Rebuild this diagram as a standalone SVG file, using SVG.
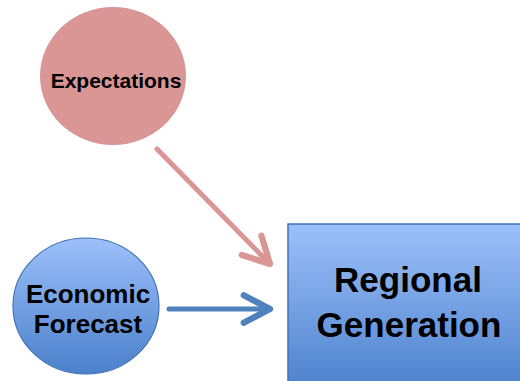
<svg xmlns="http://www.w3.org/2000/svg" width="520" height="381" viewBox="0 0 520 381">
<defs>
<style>
text{font-family:"Liberation Sans",Arial,sans-serif;font-weight:bold;fill:#000;text-anchor:middle}
.conn{fill:none;stroke-width:5;stroke-linecap:round;stroke-linejoin:round}
</style>
<linearGradient id="gb" x1="0" y1="0" x2="0" y2="1">
<stop offset="0" stop-color="#9DC0FA"/>
<stop offset="1" stop-color="#4A80CB"/>
</linearGradient>
<marker id="ap" markerUnits="userSpaceOnUse" orient="auto" markerWidth="40" markerHeight="40" refX="0" refY="0" viewBox="-26 -16 32 32" overflow="visible">
<path d="M-21,-11 L0,0 L-21,11" fill="none" stroke="#D99694" stroke-width="5" stroke-linecap="round" stroke-linejoin="round"/>
</marker>
<marker id="ab" markerUnits="userSpaceOnUse" orient="auto" markerWidth="40" markerHeight="40" refX="0" refY="0" viewBox="-26 -16 32 32" overflow="visible">
<path d="M-21,-11 L0,0 L-21,11" fill="none" stroke="#4F81BD" stroke-width="5" stroke-linecap="round" stroke-linejoin="round"/>
</marker>
</defs>
<rect width="520" height="381" fill="#fff"/>
<g id="connectors">
<path class="conn" d="M157,149 L270,264" stroke="#D99694" marker-end="url(#ap)"/>
<path class="conn" d="M169,309 L270,309" stroke="#4F81BD" marker-end="url(#ab)"/>
</g>
<g id="expectations">
<ellipse cx="113" cy="76" rx="73" ry="69" fill="#D99694"/>
<text x="116" y="88" font-size="21">Expectations</text>
</g>
<g id="economic-forecast">
<ellipse cx="86" cy="306" rx="73" ry="68" fill="url(#gb)" stroke="#3F73B5" stroke-width="1.2"/>
<text x="88" y="303" font-size="26">Economic</text>
<text x="88" y="333" font-size="26">Forecast</text>
</g>
<g id="regional-generation">
<rect x="288" y="224" width="240" height="170" fill="url(#gb)" stroke="#3F73B5" stroke-width="1.5"/>
<text x="408" y="292" font-size="35">Regional</text>
<text x="409" y="337" font-size="35">Generation</text>
</g>
</svg>
